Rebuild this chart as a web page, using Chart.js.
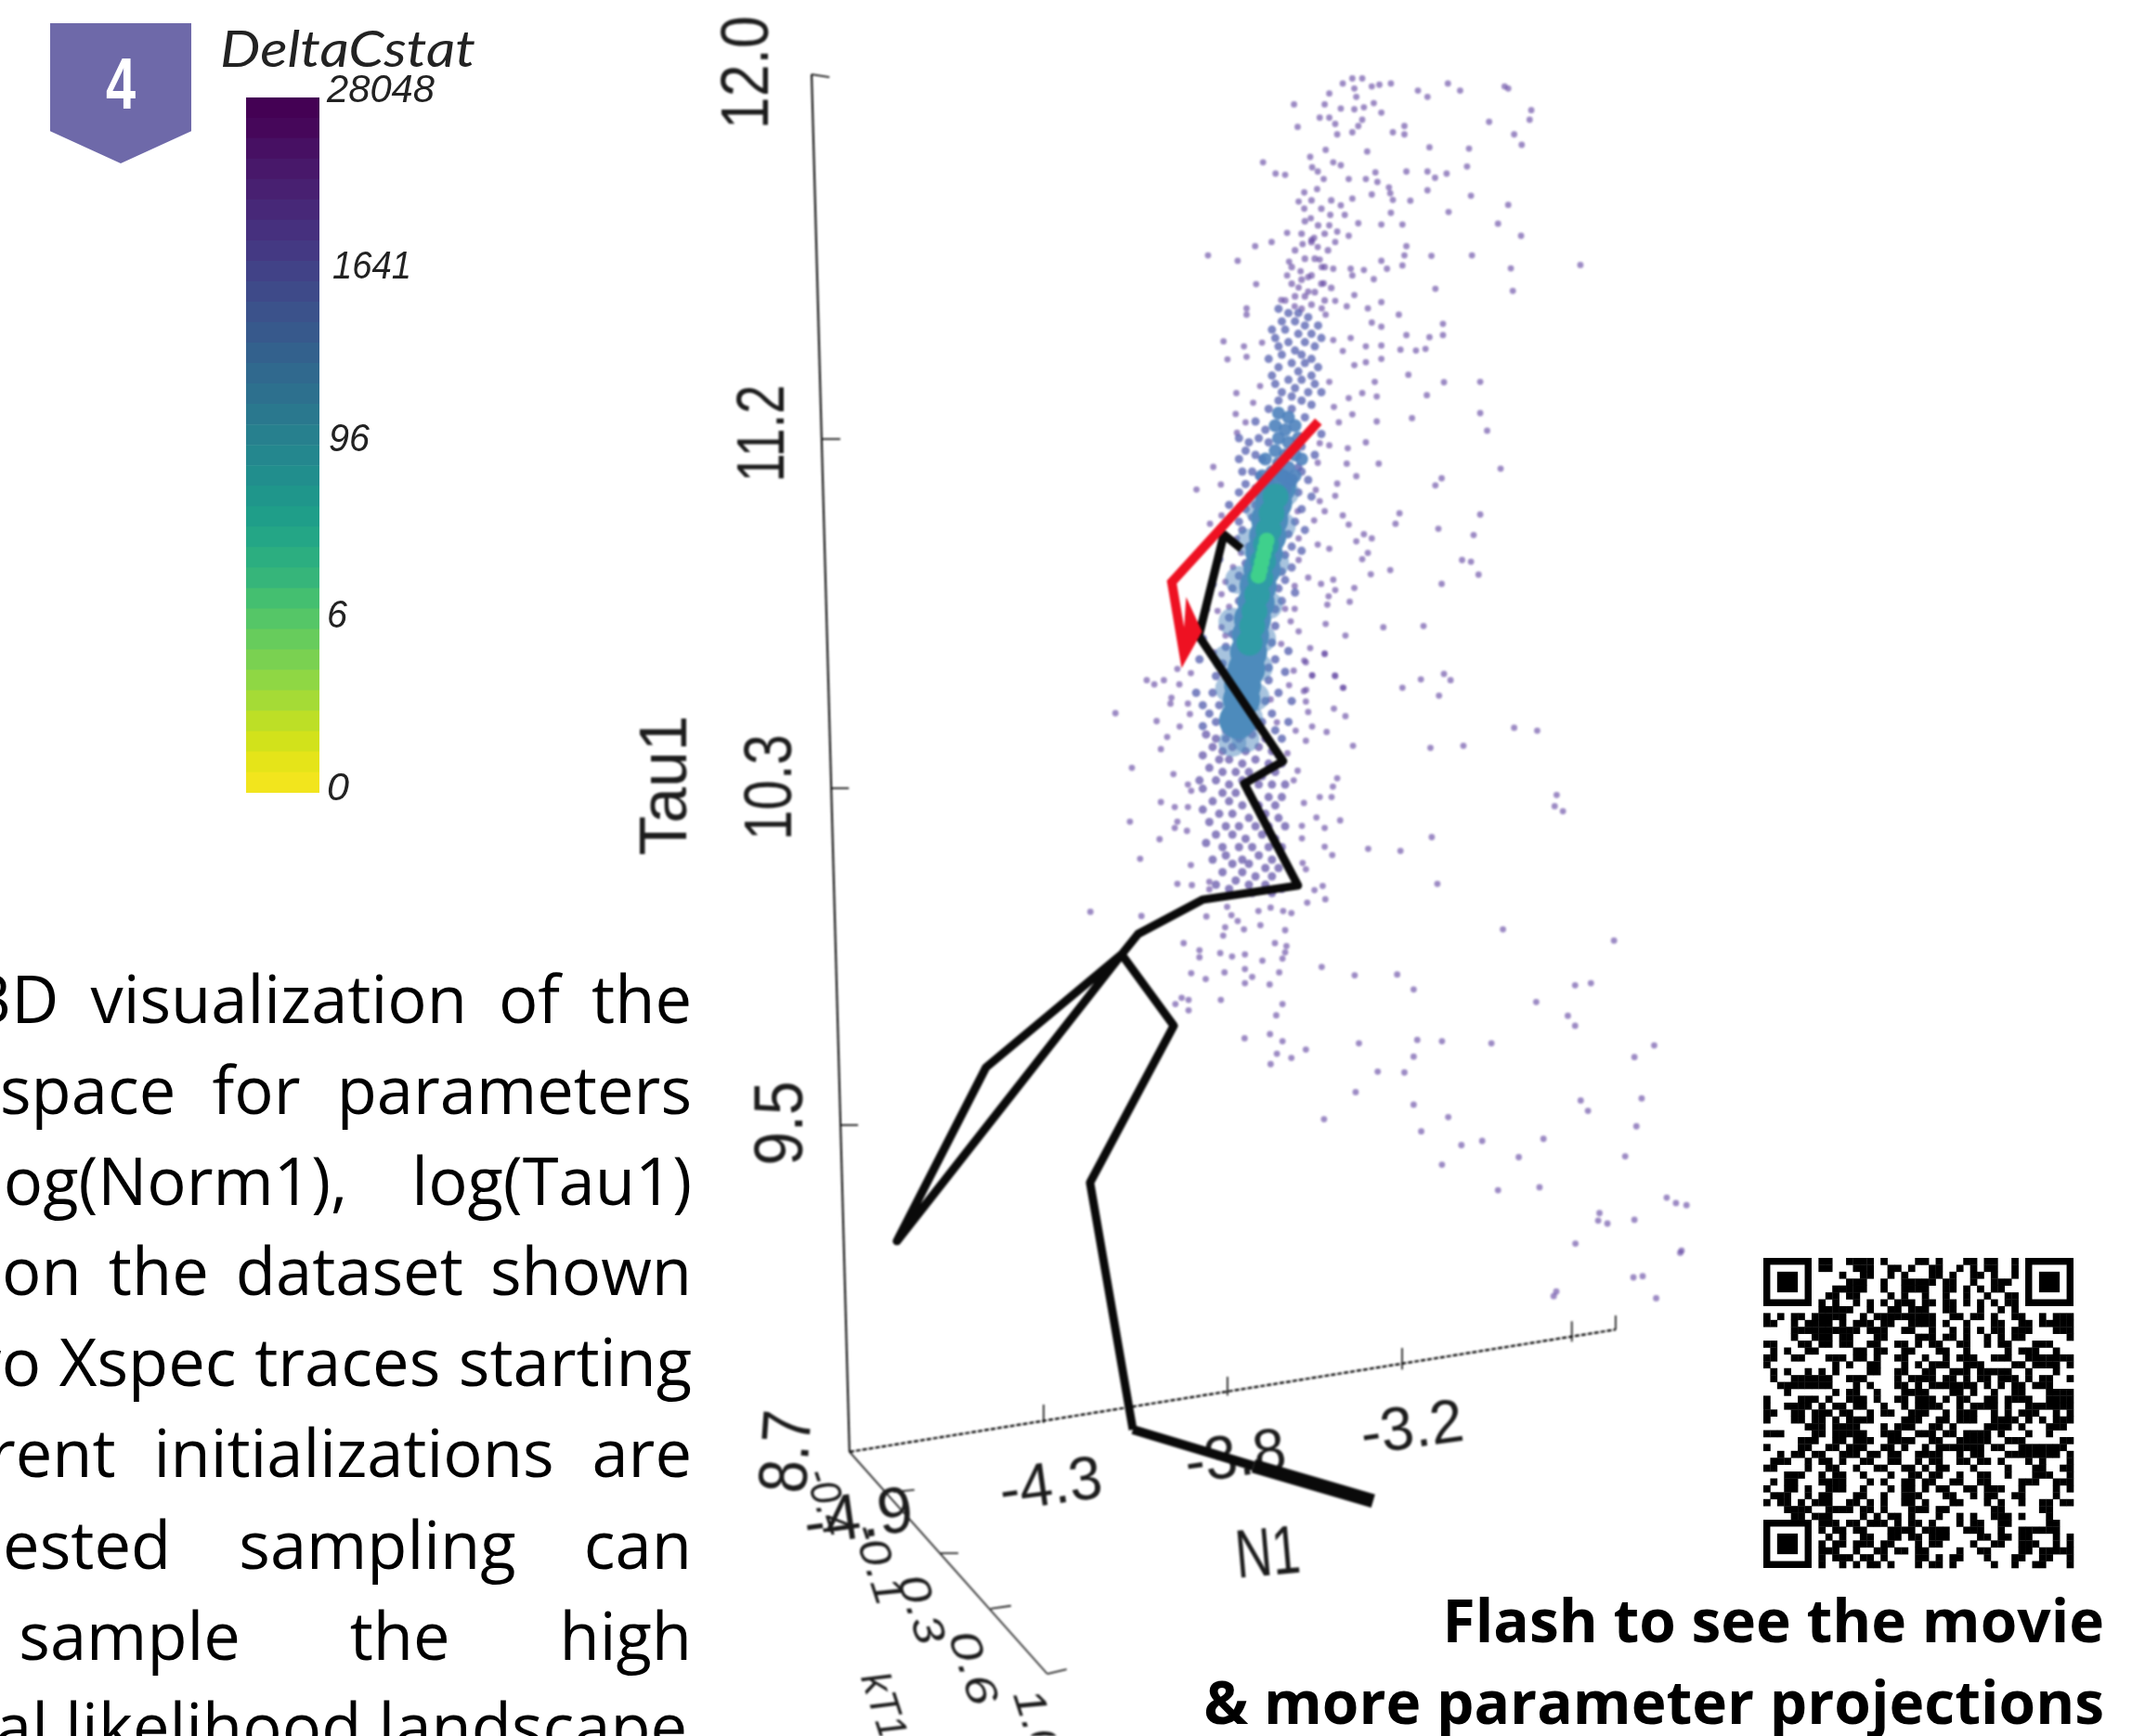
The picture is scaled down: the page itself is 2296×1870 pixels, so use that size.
<!DOCTYPE html>
<html>
<head>
<meta charset="utf-8">
<title>DeltaCstat parameter space</title>
<script src="https://cdn.jsdelivr.net/npm/chart.js@4/dist/chart.umd.min.js"></script>
<style>
  html, body { margin: 0; padding: 0; background: #fff; }
  #page { position: relative; width: 2296px; height: 1870px; overflow: hidden; background: #fff; }
  #plot { position: absolute; left: 0; top: 0; filter: blur(0.8px); }
  #bar { position: absolute; left: 265px; top: 105px; filter: blur(0.5px); }
  #qr { position: absolute; left: 1899px; top: 1355px; }
  .badge { position: absolute; left: 54px; top: 25px; width: 152px; height: 151px; background: #6e69a9;
           clip-path: polygon(0 0, 100% 0, 100% 77%, 50% 100%, 0 77%); }
  .badge span { position: absolute; left: 0; right: 0; top: 20px; text-align: center; color: #fff;
                font: bold 78px "Liberation Sans Narrow", "Liberation Sans"; transform: scaleX(0.74); }
  .txt { position: absolute; white-space: nowrap; color: #222; font-style: italic; font-family: "Liberation Sans"; }
  .cap { position: absolute; font: 70.5px/98px "Open Sans"; color: #000; text-align: justify; text-align-last: justify; white-space: normal; }
  .foot { position: absolute; right: 30px; white-space: nowrap; font: bold 64px/80px "Open Sans"; color: #000; }
</style>
</head>
<body>
<div id="page">
  <canvas id="plot" width="2296" height="1870"></canvas>
  <canvas id="bar" width="79" height="749"></canvas>
  <canvas id="qr" width="338" height="338"></canvas>
  <div class="badge"><span>4</span></div>
  <div id="texts"></div>
</div>
<script>
// cloud of samples, [N1, Tau1]
const cloudUpper = [[-3.376,11.992],[-3.346,11.992],[-3.405,11.98],[-3.37,11.968],[-3.317,11.973],[-3.294,11.977],[-3.259,11.98],[-3.177,11.963],[-3.148,11.948],[-3.086,11.98],[-3.049,11.963],[-2.914,11.973],[-2.903,11.968],[-3.446,11.956],[-3.364,11.948],[-3.311,11.933],[-3.341,11.923],[-3.553,11.93],[-3.46,11.93],[-3.411,11.92],[-3.37,11.918],[-3.288,11.91],[-3.475,11.898],[-3.446,11.898],[-3.346,11.893],[-3.358,11.878],[-2.833,11.916],[-2.838,11.893],[-2.961,11.888],[-3.542,11.876],[-3.428,11.883],[-3.376,11.863],[-3.422,11.858],[-3.253,11.863],[-3.218,11.878],[-3.218,11.858],[-2.885,11.858],[-2.862,11.833],[-3.142,11.827],[-3.022,11.824],[-3.331,11.817],[-3.457,11.821],[-3.504,11.804],[-3.647,11.791],[-3.434,11.791],[-3.411,11.784],[-3.498,11.779],[-3.481,11.769],[-3.609,11.764],[-3.58,11.761],[-3.028,11.781],[-3.212,11.769],[-3.148,11.769],[-3.09,11.764],[-3.306,11.767],[-3.335,11.751],[-3.463,11.751],[-3.387,11.751],[-3.125,11.754],[-3.3,11.744],[-3.265,11.731],[-3.522,11.719],[-3.483,11.727],[-3.148,11.724],[-3.317,11.714],[-3.261,11.717],[-3.016,11.711],[-3.376,11.704],[-3.539,11.697],[-3.411,11.688],[-3.253,11.701],[-3.2,11.699],[-2.903,11.689],[-3.084,11.672],[-3.259,11.67],[-3.522,11.68],[-3.399,11.665],[-3.443,11.665],[-3.502,11.657],[-3.446,11.64],[-3.358,11.645],[-3.288,11.642],[-3.224,11.642],[-2.934,11.644],[-3.492,11.61],[-2.864,11.615],[-3.422,11.625],[-3.387,11.615],[-3.5,11.605],[-3.527,11.595],[-3.574,11.622],[-3.621,11.6],[-3.671,11.59],[-3.481,11.588],[-3.212,11.59],[-3.428,11.6],[-3.814,11.568],[-3.724,11.555],[-3.013,11.568],[-3.136,11.567],[-3.218,11.568],[-3.475,11.558],[-3.568,11.553],[-2.684,11.545],[-3.288,11.555],[-3.533,11.53],[-3.381,11.536],[-3.271,11.536],[-3.224,11.544],[-2.895,11.537],[-3.469,11.54],[-3.434,11.536],[-3.341,11.533],[-3.574,11.52],[-3.376,11.52],[-3.311,11.511],[-3.51,11.516],[-3.668,11.499],[-3.463,11.501],[-3.539,11.491],[-3.124,11.488],[-2.889,11.483],[-3.51,11.481],[-3.37,11.473],[-3.592,11.461],[-3.428,11.459],[-3.288,11.456],[-3.551,11.446],[-3.393,11.446],[-3.469,11.441],[-3.329,11.441],[-3.697,11.441],[-3.697,11.426],[-3.235,11.426],[-3.457,11.426]];
const cloudColumn = [[-3.5,11.7],[-3.47,11.68],[-3.44,11.7],[-3.52,11.65],[-3.48,11.64],[-3.46,11.62],[-3.53,11.62],[-3.5,11.6],[-3.45,11.58],[-3.55,11.58],[-3.52,11.56],[-3.49,11.56],[-3.46,11.54],[-3.56,11.54],[-3.53,11.51],[-3.5,11.52],[-3.47,11.5],[-3.56,11.5],[-3.44,11.49],[-3.52,11.47],[-3.49,11.48],[-3.55,11.47],[-3.46,11.46],[-3.58,11.46],[-3.5,11.45],[-3.53,11.44]];
const cloudMiddle = [[-3.101,11.404],[-3.101,11.377],[-3.212,11.377],[-3.142,11.372],[-3.317,11.407],[-3.288,11.397],[-3.767,11.362],[-3.434,11.365],[-3.381,11.37],[-3.65,11.359],[-3.288,11.352],[-3.335,11.35],[-3.705,11.35],[-3.697,11.325],[-3.755,11.319],[-3.23,11.342],[-3.183,11.34],[-3.154,11.344],[-3.405,11.339],[-3.288,11.32],[-3.37,11.305],[-3.335,11.312],[-3.206,11.282],[-3.446,11.265],[-3.308,11.265],[-3.098,11.264],[-2.988,11.265],[-3.656,11.255],[-3.728,11.238],[-3.346,11.238],[-3.302,11.23],[-3.387,11.226],[-3.15,11.233],[-3.432,11.205],[-3.677,11.215],[-3.376,11.187],[-2.988,11.19],[-3.73,11.188],[-3.195,11.178],[-3.302,11.17],[-3.417,11.168],[-2.967,11.148],[-3.7,11.168],[-3.726,11.143],[-3.335,11.12],[-3.39,11.106],[-3.446,11.113],[-3.475,11.118],[-3.481,11.071],[-3.393,11.069],[-3.296,11.069],[-3.798,11.061],[-2.926,11.057],[-3.364,11.039],[-3.422,11.021],[-3.105,11.034],[-3.124,11.017],[-3.775,11.019],[-3.849,11.007],[-3.487,11.006],[-3.428,10.992],[-3.475,10.979],[-2.988,10.947],[-3.233,10.95],[-3.46,10.955],[-3.405,10.945],[-3.542,10.955],[-3.245,10.925],[-3.387,10.923],[-3.492,10.933],[-3.115,10.913],[-3.008,10.898],[-3.341,10.9],[-3.317,10.89],[-3.364,10.883],[-3.481,10.875],[-3.446,10.865],[-3.539,10.89],[-3.329,10.855],[-3.346,10.84],[-3.043,10.838],[-3.016,10.834],[-3.539,10.838],[-3.261,10.814],[-3.32,10.804],[-2.993,10.803],[-3.51,10.796],[-3.471,10.781],[-3.434,10.791],[-3.105,10.781],[-3.37,10.771],[-3.428,10.766],[-3.551,10.776],[-3.448,10.751],[-3.384,10.738],[-3.452,10.731],[-3.282,10.677],[-3.16,10.68],[-3.457,10.685],[-3.563,10.691],[-3.58,10.721],[-3.551,10.721],[-3.397,10.657],[-3.539,10.667],[-3.504,10.627],[-3.46,10.614],[-3.592,10.637],[-3.522,10.597],[-3.428,10.56],[-3.168,10.552],[-3.098,10.565],[-3.078,10.55],[-3.224,10.532],[-3.405,10.532],[-3.498,10.562],[-3.568,10.538],[-3.113,10.513],[-3.516,10.527],[-3.808,10.925],[-3.773,10.945],[-3.726,10.89],[-3.714,10.855],[-3.738,10.821],[-3.761,10.786],[-3.773,10.756],[-3.785,10.716],[-3.773,10.677],[-3.75,10.726],[-3.761,10.657],[-3.796,10.617],[-4.0,10.55],[-3.948,10.55],[-3.977,10.54],[-3.901,10.54],[-3.907,10.577],[-3.925,10.508],[-3.866,10.567]];
const cloudLower = [[-4.095,10.471],[-2.885,10.436],[-2.815,10.429],[-3.139,10.388],[-3.039,10.393],[-4.045,10.34],[-3.919,10.325],[-3.957,10.385],[-3.97,10.452],[-3.938,10.414],[-3.928,10.494],[-3.9,10.439],[-3.875,10.494],[-3.869,10.469],[-2.756,10.275],[-2.762,10.248],[-2.737,10.236],[-3.957,10.258],[-4.051,10.211],[-3.915,10.246],[-3.875,10.246],[-3.907,10.211],[-3.915,10.196],[-3.878,10.189],[-3.961,10.169],[-4.02,10.122],[-3.866,10.107],[-3.907,10.062],[-3.863,10.059],[-3.81,10.067],[-3.81,10.049],[-4.171,9.995],[-4.016,9.985],[-3.819,9.984],[-3.875,10.3],[-3.865,10.285],[-3.422,10.315],[-3.435,10.295],[-3.475,10.27],[-3.439,10.27],[-3.523,10.256],[-3.542,10.333],[-3.554,10.31],[-3.485,10.221],[-3.413,10.214],[-3.529,10.201],[-3.46,10.196],[-3.529,10.171],[-3.46,10.151],[-3.437,10.131],[-3.527,10.112],[-3.517,10.097],[-3.328,10.146],[-3.23,10.141],[-3.135,10.174],[-3.118,10.062],[-3.466,10.057],[-3.491,10.047],[-3.458,10.025],[-3.513,10.017],[-3.374,10.393],[-3.454,10.426],[-3.498,10.439],[-3.517,10.405],[-3.548,10.429],[-3.573,10.375],[-3.397,10.464],[-3.432,10.482],[-3.403,10.532],[-3.429,10.561],[-3.498,10.561],[-3.523,10.524],[-3.517,10.499],[-3.51,10.474],[-3.554,10.573],[-3.517,10.593],[-3.46,10.613],[-3.624,10.504],[-3.605,10.449],[-3.756,10.007],[-3.743,9.987],[-3.762,9.958],[-3.768,9.938],[-3.724,9.973],[-3.705,9.953],[-3.661,9.997],[-3.624,10.005],[-3.586,9.997],[-3.561,9.992],[-3.655,9.963],[-3.58,9.951],[-3.888,9.92],[-3.84,9.903],[-3.84,9.886],[-3.777,9.896],[-3.741,9.888],[-3.702,9.893],[-3.649,9.878],[-3.611,9.92],[-3.576,9.913],[-3.58,9.898],[-3.588,9.883],[-3.702,9.858],[-3.598,9.85],[-3.865,9.848],[-3.821,9.834],[-3.764,9.85],[-3.68,9.839],[-3.702,9.824],[-3.627,9.821],[-3.469,9.863],[-3.369,9.843],[-3.24,9.845],[-3.19,9.809],[-2.919,9.953],[-2.582,9.926],[-2.7,9.819],[-2.652,9.824],[-2.818,9.779],[-2.722,9.746],[-2.7,9.722],[-2.46,9.675],[-2.52,9.647],[-3.913,9.774],[-3.894,9.789],[-3.873,9.784],[-3.873,9.759],[-3.775,9.784],[-3.588,9.774],[-3.607,9.747],[-3.703,9.692],[-3.626,9.702],[-3.588,9.685],[-3.517,9.665],[-3.605,9.655],[-3.561,9.645],[-3.624,9.63],[-3.356,9.68],[-3.179,9.688],[-3.104,9.685],[-2.954,9.68],[-3.19,9.648],[-3.299,9.612],[-3.218,9.61],[-3.366,9.563],[-3.19,9.533],[-2.683,9.543],[-2.661,9.518],[-2.498,9.548],[-3.462,9.498],[-3.085,9.503],[-3.167,9.469],[-2.514,9.481],[-2.982,9.446],[-3.045,9.436],[-2.796,9.451],[-2.871,9.407],[-2.548,9.409],[-3.104,9.389],[-2.934,9.328],[-2.808,9.335],[-2.422,9.31],[-2.394,9.297],[-2.362,9.292],[-2.626,9.273],[-2.63,9.255],[-2.602,9.248],[-2.52,9.257],[-2.699,9.2],[-2.381,9.178],[-2.523,9.119],[-2.495,9.122],[-2.765,9.074],[-2.454,9.069],[-2.757,9.085],[-2.377,9.183]];
// denser parts of the cloud
const cloudDense = [[-3.6,11.44],[-3.57,11.43],[-3.54,11.43],[-3.51,11.42],[-3.59,11.41],[-3.55,11.41],[-3.52,11.4],[-3.48,11.4],[-3.62,11.39],[-3.58,11.39],[-3.5,11.38],[-3.54,11.38],[-3.61,11.37],[-3.47,11.37],[-3.57,11.36],[-3.52,11.36],[-3.6,11.35],[-3.49,11.35],[-3.55,11.34],[-3.53,11.33],[-3.59,11.33],[-3.5,11.32],[-3.63,11.32],[-3.56,11.31],[-3.52,11.31],[-3.48,11.3],[-3.6,11.3],[-3.54,11.29],[-3.5,11.28],[-3.62,11.28],[-3.57,11.27],[-3.53,11.27],[-3.49,11.26],[-3.61,11.26],[-3.55,11.25],[-3.51,11.24],[-3.59,11.24],[-3.47,11.24],[-3.56,11.23],[-3.53,11.22],[-3.6,11.22],[-3.5,11.21],[-3.63,11.2],[-3.56,11.2],[-3.72,11.13],[-3.69,11.12],[-3.66,11.13],[-3.7,11.1],[-3.72,11.08],[-3.67,11.09],[-3.65,11.08],[-3.71,11.05],[-3.68,11.05],[-3.66,11.04],[-3.7,11.02],[-3.67,11.01],[-3.65,11.01],[-3.69,10.99],[-3.72,11.0],[-3.67,10.97],[-3.65,10.96],[-3.7,10.96],[-3.68,10.94],[-3.72,10.93],[-3.64,11.15],[-3.67,11.17],[-3.63,11.12],[-3.52,11.18],[-3.5,11.15],[-3.47,11.14],[-3.53,11.11],[-3.49,11.09],[-3.53,11.05],[-3.51,11.03],[-3.54,11.0],[-3.5,10.99],[-3.53,10.96],[-3.55,10.93],[-3.52,10.91],[-3.56,10.87],[-3.53,10.86],[-3.56,10.82],[-3.58,10.79],[-3.55,10.76],[-3.59,10.74]];
// fringe around the core and its tail
const cloudFringe = [[-3.71,10.91],[-3.69,10.87],[-3.7,10.83],[-3.72,10.8],[-3.74,10.77],[-3.72,10.74],[-3.75,10.7],[-3.74,10.66],[-3.76,10.63],[-3.77,10.59],[-3.75,10.57],[-3.79,10.56],[-3.8,10.52],[-3.78,10.49],[-3.81,10.47],[-3.83,10.44],[-3.79,10.45],[-3.57,10.9],[-3.58,10.85],[-3.59,10.81],[-3.6,10.77],[-3.61,10.72],[-3.61,10.68],[-3.62,10.64],[-3.61,10.6],[-3.63,10.58],[-3.63,10.55],[-3.6,10.52],[-3.64,10.5],[-3.62,10.47],[-3.65,10.45],[-3.61,10.43],[-3.67,10.44],[-3.7,10.43],[-3.76,10.41],[-3.58,10.97],[-3.56,11.02],[-3.54,11.06],[-3.75,10.97],[-3.73,10.95],[-3.77,10.9],[-3.78,10.84],[-3.8,10.78],[-3.82,10.72],[-3.83,10.65],[-3.84,10.6],[-3.85,10.52],[-3.83,10.49],[-3.57,10.62],[-3.58,10.57],[-3.56,10.5],[-3.57,10.45],[-3.59,10.41]];
const cloudDenseBlue = [[-3.6,11.19],[-3.57,11.18],[-3.61,11.16],[-3.58,11.15],[-3.55,11.16],[-3.6,11.13],[-3.57,11.12],[-3.54,11.13],[-3.61,11.1],[-3.58,11.09],[-3.55,11.09],[-3.6,11.07],[-3.57,11.06],[-3.62,11.05],[-3.59,11.04],[-3.56,11.03],[-3.63,11.02],[-3.58,11.01],[-3.64,11.08],[-3.65,11.04],[-3.53,11.08],[-3.55,11.04]];
const cloudBody = [[-3.82,10.42],[-3.79,10.41],[-3.76,10.43],[-3.72,10.41],[-3.68,10.42],[-3.64,10.41],[-3.8,10.39],[-3.77,10.38],[-3.74,10.39],[-3.7,10.38],[-3.66,10.39],[-3.62,10.38],[-3.6,10.37],[-3.83,10.37],[-3.78,10.36],[-3.75,10.36],[-3.71,10.35],[-3.67,10.36],[-3.63,10.35],[-3.59,10.35],[-3.81,10.34],[-3.77,10.33],[-3.73,10.33],[-3.69,10.33],[-3.65,10.32],[-3.61,10.33],[-3.84,10.31],[-3.79,10.31],[-3.75,10.3],[-3.71,10.31],[-3.66,10.3],[-3.62,10.3],[-3.58,10.3],[-3.83,10.29],[-3.77,10.28],[-3.73,10.28],[-3.69,10.28],[-3.63,10.27],[-3.59,10.27],[-3.8,10.26],[-3.75,10.26],[-3.71,10.25],[-3.66,10.25],[-3.61,10.25],[-3.83,10.24],[-3.78,10.23],[-3.74,10.23],[-3.69,10.22],[-3.64,10.23],[-3.6,10.22],[-3.81,10.21],[-3.76,10.2],[-3.72,10.2],[-3.67,10.2],[-3.63,10.2],[-3.58,10.2],[-3.79,10.18],[-3.74,10.18],[-3.7,10.17],[-3.65,10.18],[-3.61,10.17],[-3.82,10.16],[-3.77,10.15],[-3.72,10.15],[-3.68,10.15],[-3.63,10.15],[-3.59,10.15],[-3.76,10.13],[-3.71,10.12],[-3.66,10.13],[-3.62,10.12],[-3.8,10.12],[-3.74,10.11],[-3.69,10.11],[-3.64,10.1],[-3.6,10.1],[-3.77,10.09],[-3.71,10.09],[-3.67,10.08],[-3.62,10.08],[-3.73,10.07],[-3.69,10.06],[-3.64,10.06],[-3.79,10.06],[-3.75,10.05],[-3.68,10.04],[-3.62,10.04],[-3.59,10.05]];
const coreBlue = [[-3.603,11.014],[-3.615,10.975],[-3.627,10.935],[-3.633,10.895],[-3.644,10.855],[-3.65,10.816],[-3.662,10.776],[-3.668,10.736],[-3.679,10.696],[-3.685,10.657],[-3.691,10.617],[-3.697,10.577],[-3.709,10.538],[-3.712,10.504],[-3.724,10.454]];
const coreHaze = [[-3.72,10.44],[-3.74,10.4],[-3.7,10.41],[-3.69,10.46],[-3.73,10.49],[-3.67,10.51],[-3.75,10.53],[-3.66,10.58],[-3.76,10.6],[-3.65,10.65],[-3.74,10.69],[-3.63,10.73],[-3.72,10.79],[-3.61,10.83],[-3.69,10.88],[-3.59,10.92],[-3.66,10.96],[-3.58,11.0]];
const coreTeal = [[-3.609,10.99],[-3.621,10.95],[-3.63,10.91],[-3.638,10.875],[-3.647,10.835],[-3.655,10.795],[-3.665,10.755],[-3.673,10.715],[-3.68,10.68],[-3.688,10.64]];
const coreHot = [[-3.636,10.885],[-3.641,10.867],[-3.646,10.85],[-3.651,10.833],[-3.656,10.815],[-3.661,10.8]];

// trace paths, [N1, Tau1]
const blackTrace = [[-3.313,8.583],[-3.676,8.667],[-4.042,8.754],[-4.172,9.346],[-3.918,9.722],[-4.076,9.893],[-4.758,9.206],[-4.488,9.622],[-4.076,9.893],[-4.026,9.942],[-3.831,10.024],[-3.541,10.058],[-3.704,10.302],[-3.586,10.356],[-3.842,10.656],[-3.766,10.899],[-3.713,10.865]];
const redTrace = [[-3.479,11.17],[-3.924,10.785],[-3.887,10.612],[-3.848,10.667],[-3.87,10.705],[-3.876,10.634]];

// 3D box axes as they land on the view
const tauAxis = [[-5.017,12.002],[-4.902,8.701]];
const n1Axis = [[-4.902,8.701],[-2.577,8.994]];
const kt1Axis = [[-4.902,8.701],[-4.302,8.169]];
const tauTicks = [[-5.017,12.002,-4.963,11.995],[-4.984,11.128,-4.93,11.128],[-4.958,10.291,-4.904,10.291],[-4.93,9.484,-4.876,9.484]];
const n1Ticks = [[-4.313,8.814,-4.313,8.77],[-3.755,8.881,-3.755,8.836],[-3.225,8.95,-3.225,8.898],[-2.71,9.014,-2.71,8.965],[-2.577,9.028,-2.577,8.994]];
const kt1Ticks = [[-4.769,8.605,-4.705,8.61],[-4.626,8.458,-4.572,8.458],[-4.474,8.325,-4.412,8.332],[-4.302,8.169,-4.243,8.18]];

const axisLabels = [
  ['12.0', -5.205, 12.006], ['11.2', -5.157, 11.141], ['10.3', -5.135, 10.293], ['9.5', -5.104, 9.488], ['8.7', -5.084, 8.701], ['Tau1', -5.453, 10.298],
  ['-4.9', -4.874, 8.538], ['-4.3', -4.29, 8.616], ['-3.8', -3.73, 8.683], ['-3.2', -3.194, 8.752], ['N1', -3.632, 8.451],
  ['-0.4', -4.972, 8.58], ['-0.1', -4.82, 8.431], ['0.3', -4.69, 8.322], ['0.6', -4.533, 8.182], ['1.0', -4.34, 8.05], ['kT1', -4.803, 8.091]
];
// rotation, font size, target length, cross stretch, italic - same order as axisLabels
const axisLabelStyle = [
  [-90,60,122,1.2,0],[-90,56,105,1.3,0],[-90,58,114,1.25,0],[-90,62,91,1.2,0],[-86,62,89,1.2,0],[-90,62,151,1.15,0],
  [-8,70,118,1,0],[-8,66,111,1,0],[-8,66,109,1,0],[-8,66,111,1,0],[-5,74,70,1,0],
  [72,54,74,.85,1],[72,54,90,.85,1],[72,54,76,.85,1],[72,54,82,.85,1],[72,54,74,.85,1],[72,52,74,.85,1]
];

const colorbarBands = ['#440154','#46075a','#471063','#48186a','#482071','#472878','#46307e','#443983','#414287','#3e4a89','#3b528b','#37598c','#33618d','#30698e','#2d708e','#2a788e','#27808e','#24878e','#218e8d','#1f968b','#1f9e89','#24a686','#2cae80','#36b57a','#44bf70','#55c667','#67cc5c','#7ad151','#8fd744','#a5db36','#bddf26','#d2e21b','#e5e419','#f2e51d'];
const colorbarLabels = colorbarBands.map((c, i) => 'band ' + i);
const colorbarValues = colorbarBands.map(() => 1);
const colorbarTicks = [['28048',352,116,80],['1641',358,85,270],['96',354,44,456],['6',352,22,646],['0',352,24,832]];

const captionLines = [
  ['3D visualization of the', -28], ['space for parameters', 0], ['log(Norm1), log(Tau1)', -14], ['on the dataset shown', 2],
  ['two Xspec traces starting', -78], ['different initializations are', -160], ['Nested sampling can', -50], ['to sample the high', -165]
];
const captionBaselines = [1103,1201,1299,1396,1494,1592,1691,1789];
const captionLast = 'al likelihood landscape.';
const footerLines = ['Flash to see the movie', '& more parameter projections'];

// QR pattern, finder squares are added when drawing; short rows start at column 8
const qrRows = [
"110011110100001101000110110010",
"110001110011010011001010110010",
"000100110010100011010011010010",
"000011100100111110110010011100",
"001111100100111100110101011000",
"011011000010100100100100100110",
"101001010101110110110101010110",
"111110010011011100110001001010",
"101011011111001011111111100110110100110010111",
"110010111101011101100111101001000110011011111",
"000011111111110111001100100101010110111000111",
"000010011101100011000011101101001010110000001",
"110001101101100110011010110011001011000111000",
"010100110000011011001100011001000001011100100",
"110011000111011010011001001011100111001111111",
"100000000010100110001010111001110000110111101",
"010100101010000110011001100111011111001000100",
"010011111100111000010111101101011011101011001",
"001111111100010100011010111111101010110111000",
"000100000010110010001111000110100100110001111",
"100001110100111010011011101011001101111001111",
"100111101011011001001011110010111101001111111",
"110011011101100101100111001011100101011100101",
"100011011010111100001110011011100111101010111",
"000000111011110001011100110100001111010001110",
"111000011011111001110011101101111010001001000",
"000001110011011100111100110011111001110000011",
"100001100110111001101001011111110110011111110",
"001011011001110110110011110010110001111111101",
"011100101101001100110010110011011010001010001",
"110000100110010011001101011000100001000110011",
"000111001011001000100110110010011001000111001",
"010110001111000101001101100110011000011100111",
"100110100111001000101101011001101110010000101",
"011100101100011001001110001100101100110000100",
"101101011100110101001101000110001010010011011",
"000111100111101101000111011000000110000011000",
"000011011100001010110100010010100111010001000",
"1110110111010110100010110011000001100",
"1011011000111101111001110010011111100",
"0101001100110110111000011011011000101",
"1011011101100010110000100110011100101",
"1110010011011011000010011000011011111",
"1011101101000011010110001000110011001",
"1001010110100010110100000100100110001"
];

const xMin = -7.48, xMax = -1.01, yMin = 8.02, yMax = 12.18;

function toPoints(pairs) { return pairs.map(p => ({ x: p[0], y: p[1] })); }
function tickPoints(ticks) {
  const out = [];
  ticks.forEach(t => {
    out.push({ x: t[0], y: t[1] }, { x: t[2], y: t[3] }, { x: NaN, y: NaN });
  });
  return out;
}
function dots(pairs, color, radius, order) {
  return { data: toPoints(pairs), backgroundColor: color, borderWidth: 0, pointRadius: radius, showLine: false, order: order };
}
function path(pts, color, width, order, extra) {
  return Object.assign({ data: pts, borderColor: color, borderWidth: width, pointRadius: 0, showLine: true, tension: 0, spanGaps: false, order: order }, extra || {});
}

const axisLabelPlugin = {
  id: 'axisLabelPlugin',
  beforeDatasetsDraw(chart) {
    const ctx = chart.ctx, sx = chart.scales.x, sy = chart.scales.y;
    axisLabels.forEach((lab, i) => {
      const st = axisLabelStyle[i];
      ctx.save();
      ctx.translate(sx.getPixelForValue(lab[1]), sy.getPixelForValue(lab[2]));
      ctx.rotate(st[0] * Math.PI / 180);
      ctx.font = (st[4] ? 'italic ' : '') + st[1] + 'px "Liberation Sans"';
      const w = ctx.measureText(lab[0]).width;
      ctx.scale(st[2] / w, st[3]);
      ctx.textAlign = 'center';
      ctx.textBaseline = 'middle';
      ctx.fillStyle = '#1c1c1c';
      ctx.fillText(lab[0], 0, 0);
      ctx.restore();
    });
  }
};

const cloudPurple = 'rgba(105,78,165,0.66)';

new Chart(document.getElementById('plot'), {
  type: 'scatter',
  data: {
    datasets: [
      path(toPoints(tauAxis), '#000', 2, 20),
      path(toPoints(n1Axis), '#000', 2.2, 20, { borderDash: [5, 2] }),
      path(toPoints(kt1Axis), '#222', 1.8, 20),
      path(tickPoints(tauTicks), '#111', 1.8, 20),
      path(tickPoints(n1Ticks), '#222', 1.8, 20),
      path(tickPoints(kt1Ticks), '#222', 1.8, 20),
      dots(cloudUpper, cloudPurple, 3.4, 15),
      dots(cloudColumn, cloudPurple, 3.6, 15),
      dots(cloudMiddle, cloudPurple, 3.4, 15),
      dots(cloudLower, cloudPurple, 3.4, 15),
      dots(cloudBody, 'rgba(100,85,170,0.75)', 4.5, 14),
      dots(cloudDense, 'rgba(90,100,178,0.78)', 4.5, 13),
      dots(cloudFringe, 'rgba(90,100,178,0.8)', 4.5, 13),
      dots(coreHaze, 'rgba(80,135,190,0.5)', 15, 12.5),
      dots(coreBlue, '#4d8bbc', 20, 12),
      dots(cloudDenseBlue, 'rgba(78,130,188,0.9)', 7, 11),
      dots(coreTeal, '#2f9ca6', 14, 10),
      dots(coreHot, '#3fd08c', 8.5, 9),
      path(toPoints(blackTrace), '#0a0a0a', 10, 5, {
        borderJoinStyle: 'round',
        segment: { borderWidth: c => c.p0DataIndex === 0 ? 15 : (c.p0DataIndex === 1 ? 10 : 9) }
      }),
      path(toPoints(redTrace), '#ee1122', 10, 4, { borderJoinStyle: 'miter' })
    ]
  },
  options: {
    responsive: false,
    animation: false,
    layout: { padding: 0, autoPadding: false },
    plugins: { legend: { display: false }, tooltip: { enabled: false } },
    scales: {
      x: { type: 'linear', min: xMin, max: xMax, display: false },
      y: { type: 'linear', min: yMin, max: yMax, display: false }
    }
  },
  plugins: [axisLabelPlugin]
});

new Chart(document.getElementById('bar'), {
  type: 'bar',
  data: {
    labels: colorbarLabels,
    datasets: [{ data: colorbarValues, backgroundColor: colorbarBands, barPercentage: 1, categoryPercentage: 1, borderWidth: 0 }]
  },
  options: {
    indexAxis: 'y',
    responsive: false,
    animation: false,
    layout: { padding: 0, autoPadding: false },
    plugins: { legend: { display: false }, tooltip: { enabled: false } },
    scales: { x: { min: 0, max: 1, display: false }, y: { display: false } }
  }
});

// qr code
const qr = document.getElementById('qr').getContext('2d');
const cell = 334 / 45;
qr.fillStyle = '#000';
qrRows.forEach((row, r) => {
  const off = row.length < 45 ? 8 : 0;
  for (let c = 0; c < row.length; c++) {
    if (row[c] === '1') qr.fillRect((c + off) * cell, r * cell, cell + 0.3, cell + 0.3);
  }
});
[[0, 0], [38, 0], [0, 38]].forEach(f => {
  qr.fillStyle = '#000';
  qr.fillRect(f[0] * cell, f[1] * cell, 7 * cell, 7 * cell);
  qr.fillStyle = '#fff';
  qr.fillRect((f[0] + 1) * cell, (f[1] + 1) * cell, 5 * cell, 5 * cell);
  qr.fillStyle = '#000';
  qr.fillRect((f[0] + 2) * cell, (f[1] + 2) * cell, 3 * cell, 3 * cell);
});

// page text
const box = document.getElementById('texts');
function addText(cls, text, css) {
  const d = document.createElement('div');
  d.className = cls;
  d.textContent = text;
  Object.assign(d.style, css);
  box.appendChild(d);
  return d;
}
const title = addText('txt', 'DeltaCstat', { left: '237px', top: '19px', fontSize: '54px', fontFamily: 'Lato', transformOrigin: '0 0', color: '#222' });
title.style.transform = 'scaleX(' + (275 / title.getBoundingClientRect().width) + ')';
colorbarTicks.forEach(t => {
  const d = addText('txt', t[0], { left: t[1] + 'px', top: (t[3] - 8) + 'px', fontSize: '42px', transformOrigin: '0 0' });
  d.style.transform = 'scaleX(' + (t[2] / d.getBoundingClientRect().width) + ')';
});
captionLines.forEach((l, i) => {
  addText('cap', l[0], { left: l[1] + 'px', width: (745 - l[1]) + 'px', top: (captionBaselines[i] - 77) + 'px' });
});
addText('cap', captionLast, { left: '-5px', top: '1810px', textAlign: 'left', textAlignLast: 'left', whiteSpace: 'nowrap' });
addText('foot', footerLines[0], { top: '1705px' });
addText('foot', footerLines[1], { top: '1793px' });
</script>
</body>
</html>
